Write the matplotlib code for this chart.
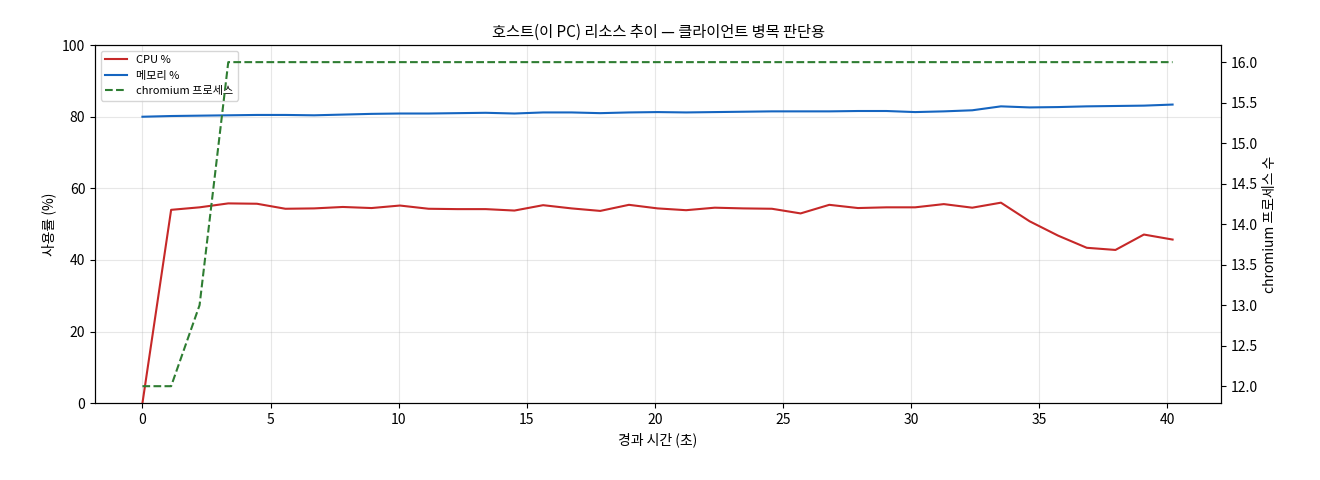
import matplotlib
matplotlib.use("Agg")
import matplotlib.pyplot as plt

plt.rcParams['font.family'] = ['Noto Sans CJK KR', 'DejaVu Sans']

step = 1.117
t = [round(i * step, 2) for i in range(37)]
cpu = [0, 54, 54.7, 55.8, 55.7, 54.3, 54.4, 54.8, 54.5, 55.2, 54.3, 54.2, 54.2, 53.8, 55.3, 54.4,
       53.7, 55.4, 54.4, 53.9, 54.6, 54.4, 54.3, 53.0, 55.4, 54.5, 54.7, 54.7, 55.6, 54.6, 56.0,
       50.8, 46.8, 43.4, 42.8, 47.1, 45.7]
mem = [80.0, 80.2, 80.3, 80.4, 80.5, 80.5, 80.4, 80.6, 80.8, 80.9, 80.9, 81.0, 81.1, 80.9, 81.2,
       81.2, 81.0, 81.2, 81.3, 81.2, 81.3, 81.4, 81.5, 81.5, 81.5, 81.6, 81.6, 81.3, 81.5, 81.8,
       82.9, 82.6, 82.7, 82.9, 83.0, 83.1, 83.4]
chrom = [12, 12, 13] + [16] * 34

fig, ax = plt.subplots(figsize=(13.2, 4.8), dpi=100)
fig.subplots_adjust(left=0.072, right=0.925, top=0.906, bottom=0.16)
l1, = ax.plot(t, cpu, color='#c62828', lw=1.5, label='CPU %')
l2, = ax.plot(t, mem, color='#1565c0', lw=1.5, label='메모리 %')
ax.set_ylim(0, 100)
ax.set_xlim(-1.85, 42.1)
ax.grid(True, alpha=0.3)
ax.set_xlabel('경과 시간 (초)')
ax.set_ylabel('사용률 (%)')
ax.set_title('호스트(이 PC) 리소스 추이 — 클라이언트 병목 판단용', fontsize=11)
ax2 = ax.twinx()
l3, = ax2.plot(t, chrom, color='#2e7d32', lw=1.5, ls='--', label='chromium 프로세스')
ax2.set_ylim(11.79, 16.21)
ax2.set_ylabel('chromium 프로세스 수')
ax.legend(handles=[l1, l2, l3], loc='upper left', fontsize=8)
fig.savefig('out.png')
